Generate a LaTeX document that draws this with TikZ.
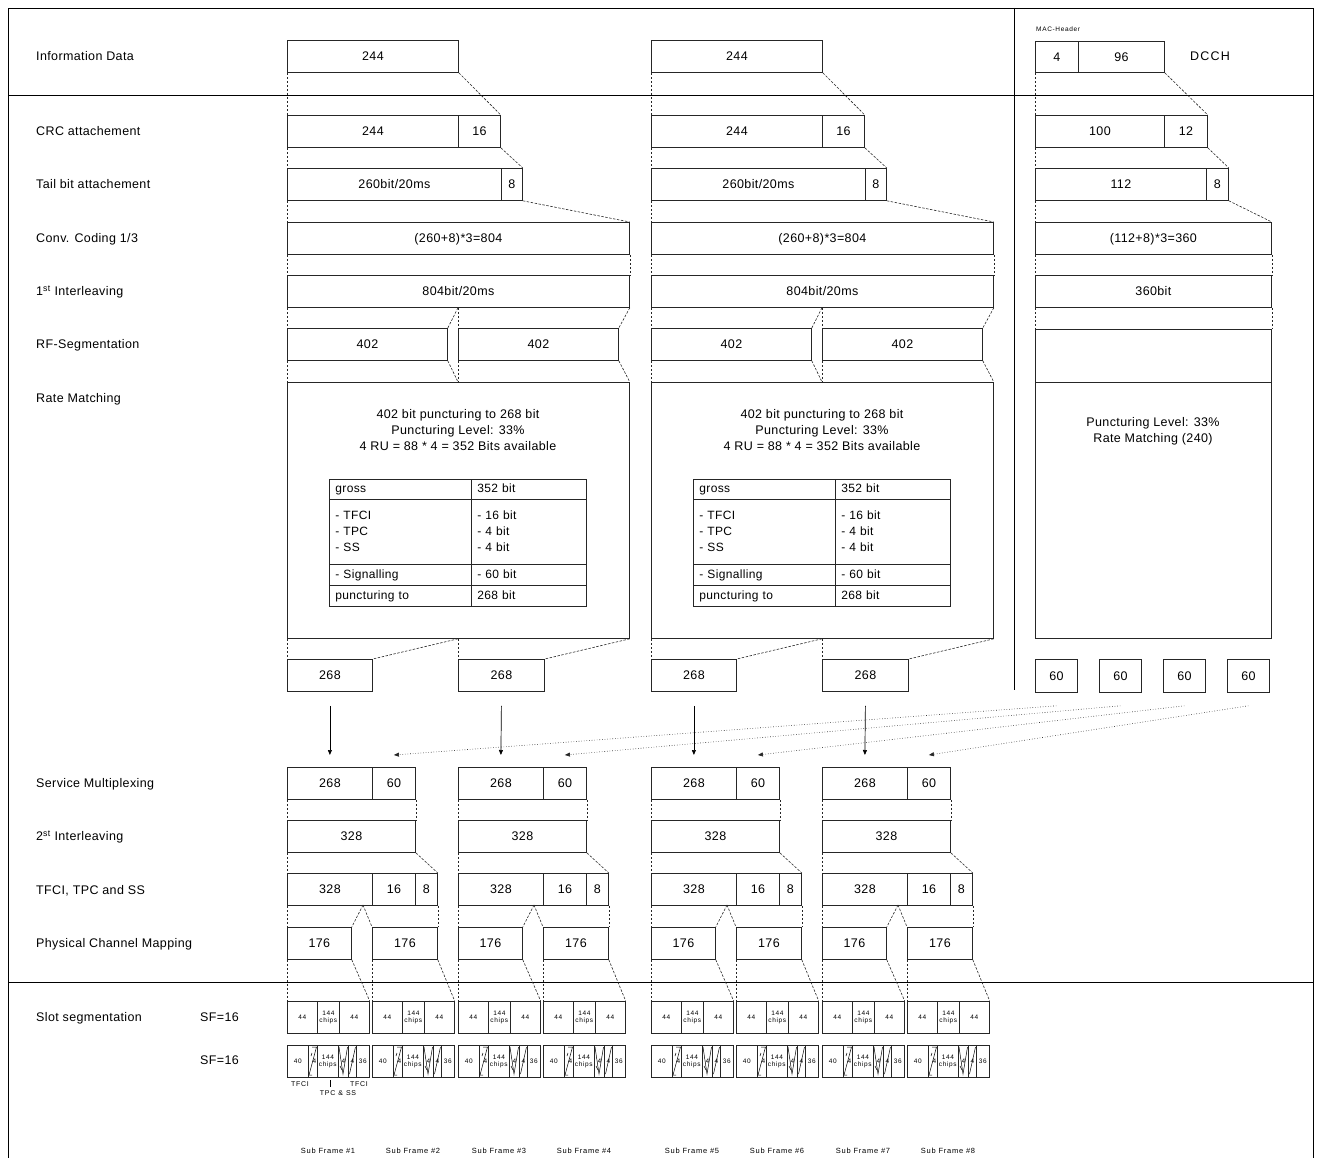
\documentclass[tikz,border=0pt]{standalone}
\usepackage{fontspec}
\setmainfont{Liberation Sans}[LetterSpace=3]
\newfontfamily\widefont{Liberation Sans}[LetterSpace=10]
\usetikzlibrary{arrows.meta,calc}
\newcommand\fsz[2]{\fontsize{#1}{#2}\selectfont}
\newcommand\bx[6]{\node[bx,minimum width=#4pt,minimum height=#5pt,anchor=north west] (#1) at (#2,#3) {#6};}
\newcommand\tcell[6]{\node[tcl,text width=#5pt,minimum height=#4pt,anchor=north west] (#1) at (#2,#3) {#6};}
\newcommand\slotcell[6]{\node[scl,minimum width=#4pt,minimum height=#5pt,anchor=north west] (#1) at (#2,#3) {#6};}
\begin{document}
\begin{tikzpicture}[x=1pt,y=-1pt,
 bx/.style={draw=black!85,line width=0.8pt,inner sep=0pt,font=\fsz{12.5}{16},text height=8.9pt,text depth=0pt},
 tcl/.style={draw=black!85,line width=0.8pt,inner xsep=6pt,inner ysep=0pt,align=left,font=\fsz{12}{16},execute at begin node=\strut,execute at end node=\strut},
 scl/.style={draw=black!85,line width=0.7pt,inner sep=0pt,align=center,font=\widefont\fsz{6.5}{7.5}},
 ml/.style={inner sep=0pt,align=center,font=\fsz{12.5}{16}},
 dl/.style={black!85,line width=0.6pt,dash pattern=on 2.5pt off 1.5pt},
 lbl/.style={anchor=west,inner sep=0pt,font=\fsz{12.5}{15},text height=9pt,text depth=0pt},
 frame/.style={black,line width=0.9pt},
 arr/.style={black,line width=0.7pt,-{Triangle[length=5pt,width=4pt]}},
 dar/.style={black!85,line width=0.6pt,dotted,-{Triangle[length=5pt,width=4pt]}},
 hat/.style={black,line width=0.5pt},
 small/.style={inner sep=0pt,font=\widefont\fsz{7}{8}}]
\useasboundingbox (0,0) rectangle (1318,1158);
% frame
\draw[frame] (8,1158) -- (8,8) -- (1313,8) -- (1313,1158);
\draw[frame] (8,95) -- (1313,95);
\draw[frame] (8,982) -- (1313,982);
\draw[frame] (1014,8) -- (1014,690);
% left labels
\node[lbl] (lInfo) at (36,56) {Information Data};
\node[lbl] (lCRC) at (36,131) {CRC attachement};
\node[lbl] (lTail) at (36,184) {Tail bit attachement};
\node[lbl] (lConv) at (36,238) {Conv. Coding 1/3};
\node[lbl] (lIl1) at (36,291) {1\textsuperscript{st} Interleaving};
\node[lbl] (lRF) at (36,344) {RF-Segmentation};
\node[lbl] (lRM) at (36,398) {Rate Matching};
\node[lbl] (lMux) at (36,783) {Service Multiplexing};
\node[lbl] (lIl2) at (36,836) {2\textsuperscript{st} Interleaving};
\node[lbl] (lTF) at (36,890) {TFCI, TPC and SS};
\node[lbl] (lPh) at (36,943) {Physical Channel Mapping};
\node[lbl] (lSlot) at (36,1017) {Slot segmentation};
\node[lbl] (lSFa) at (200,1017) {SF=16};
\node[lbl] (lSFb) at (200,1060) {SF=16};
% speech columns
\foreach \c/\d in {A/0,B/364}{
 \bx{info\c}{287+\d}{40}{171}{32}{244}
 \bx{crca\c}{287+\d}{115}{171}{32}{244}
 \bx{crcb\c}{458+\d}{115}{42}{32}{16}
 \bx{taila\c}{287+\d}{168}{214}{32}{260bit/20ms}
 \bx{tailb\c}{501+\d}{168}{21}{32}{8}
 \bx{conv\c}{287+\d}{222}{342}{32}{(260+8)*3=804}
 \bx{il\c}{287+\d}{275}{342}{32}{804bit/20ms}
 \bx{rfa\c}{287+\d}{328}{160}{32}{402}
 \bx{rfb\c}{458+\d}{328}{160}{32}{402}
 \bx{rm\c}{287+\d}{382}{342}{256}{}
 \node[ml] (rmt\c) at (458+\d,430) {402 bit puncturing to 268 bit\\Puncturing Level: 33\%\\4 RU = 88 * 4 = 352 Bits available};
 \tcell{tga\c}{329+\d}{479}{20}{130}{gross}
 \tcell{tgb\c}{471+\d}{479}{20}{103}{352 bit}
 \tcell{tma\c}{329+\d}{499}{65}{130}{- TFCI\\- TPC\\- SS}
 \tcell{tmb\c}{471+\d}{499}{65}{103}{- 16 bit\\- 4 bit\\- 4 bit}
 \tcell{tsa\c}{329+\d}{564}{21}{130}{- Signalling}
 \tcell{tsb\c}{471+\d}{564}{21}{103}{- 60 bit}
 \tcell{tpa\c}{329+\d}{585}{21}{130}{puncturing to}
 \tcell{tpb\c}{471+\d}{585}{21}{103}{268 bit}
 \bx{ra\c}{287+\d}{659}{85}{32}{268}
 \bx{rb\c}{458+\d}{659}{86}{32}{268}
 \draw[dl] (info\c.south west) -- (crca\c.north west);
 \draw[dl] (info\c.south east) -- (crcb\c.north east);
 \draw[dl] (crca\c.south west) -- (taila\c.north west);
 \draw[dl] (crcb\c.south east) -- (tailb\c.north east);
 \draw[dl] (taila\c.south west) -- (conv\c.north west);
 \draw[dl] (tailb\c.south east) -- (conv\c.north east);
 \draw[dl] (conv\c.south west) -- (il\c.north west);
 \draw[dl] (conv\c.south east) -- (il\c.north east);
 \draw[dl] (il\c.south west) -- (rfa\c.north west);
 \coordinate (ilm\c) at (rfb\c.north west |- il\c.south);
 \draw[dl] (ilm\c) -- (rfa\c.north east);
 \draw[dl] (ilm\c) -- (rfb\c.north west);
 \draw[dl] (il\c.south east) -- (rfb\c.north east);
 \draw[dl] (rfa\c.south west) -- (rm\c.north west);
 \coordinate (rmm\c) at (rfb\c.south west |- rm\c.north);
 \draw[dl] (rfa\c.south east) -- (rmm\c);
 \draw[dl] (rfb\c.south west) -- (rmm\c);
 \draw[dl] (rfb\c.south east) -- (rm\c.north east);
 \draw[dl] (rm\c.south west) -- (ra\c.north west);
 \coordinate (rmb\c) at (rb\c.north west |- rm\c.south);
 \draw[dl] (rmb\c) -- (ra\c.north east);
 \draw[dl] (rmb\c) -- (rb\c.north west);
 \draw[dl] (rm\c.south east) -- (rb\c.north east);
}
% DCCH column
\node[small,anchor=west,font=\widefont\fsz{6.5}{8}] (mac) at (1036,29) {MAC-Header};
\bx{da}{1035}{41}{43}{31}{4}
\bx{db}{1078}{41}{86}{31}{96}
\node[inner sep=0pt,font=\widefont\fsz{12.5}{15}] (dcch) at (1210,56) {DCCH};
\bx{dca}{1035}{115}{129}{32}{100}
\bx{dcb}{1164}{115}{43}{32}{12}
\bx{dta}{1035}{168}{171}{32}{112}
\bx{dtb}{1206}{168}{22}{32}{8}
\bx{dcv}{1035}{222}{236}{32}{(112+8)*3=360}
\bx{dil}{1035}{275}{236}{32}{360bit}
\bx{drf}{1035}{329}{236}{53}{}
\bx{drm}{1035}{382}{236}{256}{}
\node[ml] (drmt) at (1153,431) {Puncturing Level: 33\%\\Rate Matching (240)};
\draw[dl] (da.south west) -- (dca.north west);
\draw[dl] (db.south east) -- (dcb.north east);
\draw[dl] (dca.south west) -- (dta.north west);
\draw[dl] (dcb.south east) -- (dtb.north east);
\draw[dl] (dta.south west) -- (dcv.north west);
\draw[dl] (dtb.south east) -- (dcv.north east);
\draw[dl] (dcv.south west) -- (dil.north west);
\draw[dl] (dcv.south east) -- (dil.north east);
\draw[dl] (dil.south west) -- (drf.north west);
\draw[dl] (dil.south east) -- (drf.north east);
\foreach \i/\s in {1/1035,2/1099,3/1163,4/1227}{
 \bx{sx\i}{\s}{659}{42}{33}{60}
}
% slot segmentation
\foreach \k/\s in {1/287,2/372,3/458,4/543,5/651,6/736,7/822,8/907}{
 \slotcell{sla\k}{\s}{1001}{30}{32}{44}
 \slotcell{slb\k}{\s+30}{1001}{22}{32}{144\\chips}
 \slotcell{slc\k}{\s+52}{1001}{30}{32}{44}
 \slotcell{sld\k}{\s}{1045}{21}{32}{40}
 \slotcell{sle\k}{\s+21}{1045}{9}{32}{\hspace{3pt}4}
 \slotcell{slf\k}{\s+30}{1045}{21}{32}{144\\chips}
 \slotcell{slg\k}{\s+51}{1045}{10}{32}{4}
 \slotcell{slh\k}{\s+61}{1045}{8}{32}{4}
 \slotcell{sli\k}{\s+69}{1045}{13}{32}{36}
 \draw[hat] (\s+25,1047) -- (\s+29.5,1047) -- (\s+22,1075) -- (\s+25,1075);
 \draw[hat] (\s+25,1053) -- (\s+24,1056);
 \draw[hat] (\s+52,1047) -- (\s+56,1074) -- (\s+60.5,1047);
 \draw[hat] (\s+68.5,1047) -- (\s+62.5,1074);
 \draw[hat] (\s+53,1066) -- (\s+55,1070);
 \node[small,font=\widefont\fsz{7.5}{9}] (sfl\k) at (\s+41,1151) {Sub Frame \#\k};
}
\node[small,font=\widefont\fsz{7}{8}] (tfcil) at (300,1084) {TFCI};
\node[small,font=\widefont\fsz{7}{8}] (tfcir) at (359,1084) {TFCI};
\node[small,font=\widefont\fsz{7}{8}] (tpcss) at (338,1093) {TPC\hspace{3pt}\&\hspace{3pt}SS};
\coordinate (bart) at (330,1080);
\coordinate (barb) at (330,1087);
\draw[black,line width=0.6pt] (bart) -- (barb);
% multiplexing groups
\foreach \g/\x/\p/\q in {1/287/1/2,2/458/3/4,3/651/5/6,4/822/7/8}{
 \bx{ma\g}{\x}{767}{85}{32}{268}
 \bx{mb\g}{\x+85}{767}{43}{32}{60}
 \bx{ib\g}{\x}{820}{128}{32}{328}
 \bx{tfa\g}{\x}{873}{85}{32}{328}
 \bx{tfb\g}{\x+85}{873}{43}{32}{16}
 \bx{tfc\g}{\x+128}{873}{22}{32}{8}
 \bx{pa\g}{\x}{927}{64}{32}{176}
 \bx{pb\g}{\x+85}{927}{65}{32}{176}
 \draw[dl] (ma\g.south west) -- (ib\g.north west);
 \draw[dl] (mb\g.south east) -- (ib\g.north east);
 \draw[dl] (ib\g.south west) -- (tfa\g.north west);
 \draw[dl] (ib\g.south east) -- (tfc\g.north east);
 \draw[dl] (tfa\g.south west) -- (pa\g.north west);
 \coordinate (apx\g) at (\x+76,905);
 \draw[dl] (apx\g) -- (pa\g.north east);
 \draw[dl] (apx\g) -- (pb\g.north west);
 \draw[dl] (tfc\g.south east) -- (pb\g.north east);
 \draw[dl] (pa\g.south west) -- (sla\p.north west);
 \draw[dl] (pa\g.south east) -- (slc\p.north east);
 \draw[dl] (pb\g.south west) -- (sla\q.north west);
 \draw[dl] (pb\g.south east) -- (slc\q.north east);
}
% arrows
\draw[arr] ([yshift=-14pt]raA.south) -- ([yshift=12pt]ma1.north);
\draw[arr] ([yshift=-14pt]rbA.south) -- ([yshift=12pt]ma2.north);
\draw[arr] ([yshift=-14pt]raB.south) -- ([yshift=12pt]ma3.north);
\draw[arr] ([yshift=-14pt]rbB.south) -- ([yshift=12pt]ma4.north);
\foreach \i in {1,...,4}{
 \draw[dar] ([yshift=-13pt]sx\i.south) -- ([yshift=12pt]mb\i.north);
}
\end{tikzpicture}
\end{document}
